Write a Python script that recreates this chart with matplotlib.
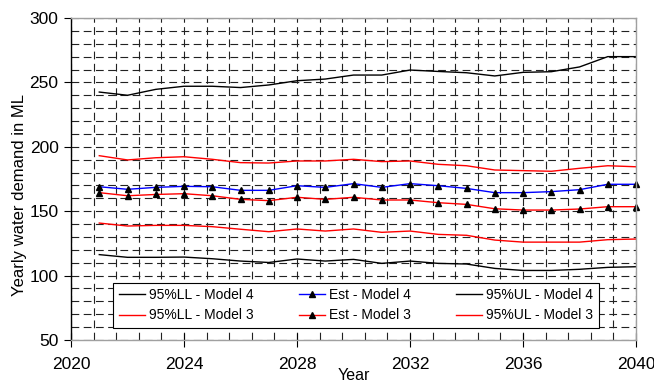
import matplotlib.pyplot as plt
from matplotlib.ticker import MultipleLocator

plt.rcParams['font.family'] = ['Liberation Sans', 'DejaVu Sans']

years = list(range(2021, 2041))

ll_model4 = [116.3, 114.2, 114.2, 114.4, 113.1, 111.3, 110.2, 112.9, 111.3, 112.6,
             109.5, 111.3, 109.5, 109.0, 105.6, 104.0, 104.0, 104.9, 106.4, 106.9]
est_model4 = [169.0, 167.0, 168.5, 169.3, 169.0, 166.2, 166.2, 169.8, 168.5, 171.4,
              168.5, 171.4, 169.8, 167.7, 164.4, 164.4, 165.2, 166.7, 170.9, 170.9]
ul_model4 = [242.5, 240.0, 244.6, 247.0, 247.0, 246.0, 248.0, 251.3, 252.6, 255.7,
             255.7, 259.6, 258.5, 257.5, 255.0, 257.8, 258.3, 262.0, 270.0, 270.0]
ll_model3 = [140.8, 138.5, 139.0, 139.0, 138.0, 136.0, 134.1, 136.2, 134.6, 136.2,
             133.6, 134.6, 132.0, 131.3, 127.6, 126.0, 126.0, 126.0, 127.9, 128.4]
est_model3 = [164.4, 162.0, 163.0, 163.6, 162.0, 159.2, 158.2, 160.8, 159.2, 160.8,
              158.7, 158.7, 156.6, 155.3, 151.9, 150.9, 150.9, 151.7, 153.5, 153.5]
ul_model3 = [193.1, 189.8, 191.5, 192.3, 190.3, 187.7, 187.4, 189.0, 189.0, 190.3,
             188.5, 189.0, 186.4, 185.3, 182.0, 181.5, 181.0, 183.3, 185.3, 184.5]

fig = plt.figure(figsize=(6.54, 3.82), dpi=100)
ax = fig.add_axes([0.1086, 0.1099, 0.8639, 0.843])

l1, = ax.plot(years, ll_model4, color='black', lw=1.0, label='95%LL - Model 4')
l2, = ax.plot(years, ll_model3, color='red', lw=1.0, label='95%LL - Model 3')
l3, = ax.plot(years, est_model4, color='blue', lw=1.0, marker='^', ms=4.5,
              mfc='black', mec='black', label='Est - Model 4')
l4, = ax.plot(years, est_model3, color='red', lw=1.0, marker='^', ms=4.5,
              mfc='black', mec='black', label='Est - Model 3')
l5, = ax.plot(years, ul_model4, color='black', lw=1.0, label='95%UL - Model 4')
l6, = ax.plot(years, ul_model3, color='red', lw=1.0, label='95%UL - Model 3')
for ln in (l1, l2, l3, l4, l5, l6):
    ln.set_clip_on(False)

ax.set_xlim(2020, 2040)
ax.set_ylim(50, 300)
ax.xaxis.set_major_locator(MultipleLocator(4))
ax.yaxis.set_major_locator(MultipleLocator(50))
ax.xaxis.set_minor_locator(MultipleLocator(0.8))
ax.yaxis.set_minor_locator(MultipleLocator(10))
ax.grid(which='both', color='#222222', linestyle=(0, (7, 4)), linewidth=0.8)
ax.set_axisbelow(True)

ax.tick_params(axis='y', which='major', direction='out', length=5, width=0.8,
               labelsize=12.5, pad=4)
ax.tick_params(axis='x', which='major', direction='inout', length=10, width=0.8,
               labelsize=12.5, pad=7)
ax.tick_params(which='minor', length=0)

for side in ('top', 'right', 'bottom'):
    ax.spines[side].set_color('#a0a0a0')
    ax.spines[side].set_linewidth(1.0)
ax.spines['left'].set_color('black')
ax.spines['left'].set_linewidth(1.0)

ax.set_xlabel('Year', fontsize=11.5, va='center')
ax.xaxis.set_label_coords(0.5, -0.109)
ax.set_ylabel('Yearly water demand in ML', fontsize=12)
ax.yaxis.set_label_coords(-0.078, 0.45)

leg = ax.legend(handles=[l1, l2, l3, l4, l5, l6], ncol=3,
                loc='lower left', bbox_to_anchor=(0.0743, 0.0373, 0.860, 0.127),
                mode='expand', borderaxespad=0, fontsize=10, frameon=True,
                fancybox=False, edgecolor='black', framealpha=1.0,
                handlelength=1.9, handletextpad=0.3, labelspacing=0.45,
                borderpad=0.4, columnspacing=1.5)
leg.get_frame().set_linewidth(0.8)

fig.savefig('out.png', dpi=100)
